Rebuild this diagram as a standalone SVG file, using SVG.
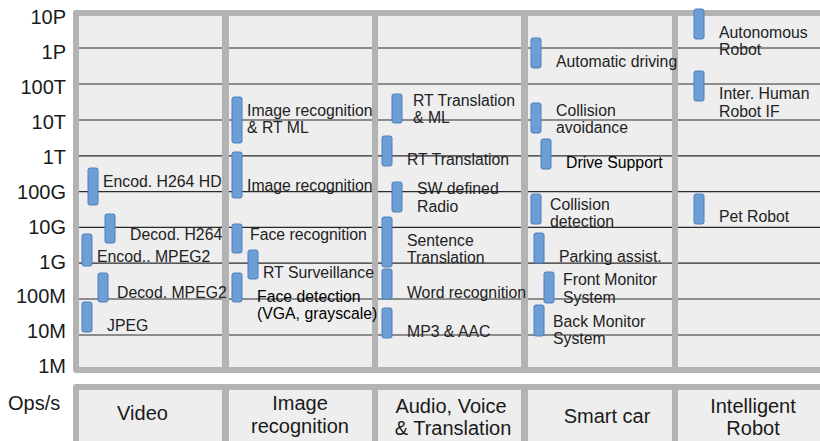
<svg xmlns="http://www.w3.org/2000/svg" width="820" height="441" viewBox="0 0 820 441">
<style>
.frame{fill:#b3b3b3}
.cell{fill:#eeeeee}
.grid{stroke:#2a2a2a;stroke-width:1.2}
.bar{fill:#6e9ed6;stroke:#4a7ebb;stroke-width:1}
.lbl{font-family:"Liberation Sans",Arial,sans-serif;font-size:15.8px;fill:#222}
.blk{fill:#000}
.ax{font-family:"Liberation Sans",Arial,sans-serif;font-size:20px;fill:#1a1a1a;text-anchor:end}
.cat{font-family:"Liberation Sans",Arial,sans-serif;font-size:20px;fill:#1a1a1a;text-anchor:middle}
</style>
<rect width="820" height="441" fill="#ffffff"/>
<g id="chart-frame">
<rect class="frame" x="73" y="10" width="800" height="363" rx="3"/>
<rect class="cell" x="79" y="16" width="800" height="351"/>
</g>
<g id="gridlines">
<line class="grid" x1="79" y1="48" x2="820" y2="48"/>
<line class="grid" x1="79" y1="84" x2="820" y2="84"/>
<line class="grid" x1="79" y1="120" x2="820" y2="120"/>
<line class="grid" x1="79" y1="155.8" x2="820" y2="155.8"/>
<line class="grid" x1="79" y1="191.6" x2="820" y2="191.6"/>
<line class="grid" x1="79" y1="227.4" x2="820" y2="227.4"/>
<line class="grid" x1="79" y1="263.2" x2="820" y2="263.2"/>
<line class="grid" x1="79" y1="299" x2="820" y2="299"/>
<line class="grid" x1="79" y1="335" x2="820" y2="335"/>
</g>
<g id="separators">
<rect class="frame" x="222" y="16" width="7" height="351"/>
<rect class="frame" x="372" y="16" width="6" height="351"/>
<rect class="frame" x="521" y="16" width="7" height="351"/>
<rect class="frame" x="672" y="16" width="6" height="351"/>
</g>
<g id="y-axis">
<text class="ax" x="66" y="24">10P</text>
<text class="ax" x="66" y="58.9">1P</text>
<text class="ax" x="66" y="93.9">100T</text>
<text class="ax" x="66" y="128.8">10T</text>
<text class="ax" x="66" y="163.7">1T</text>
<text class="ax" x="66" y="198.7">100G</text>
<text class="ax" x="66" y="233.6">10G</text>
<text class="ax" x="66" y="268.5">1G</text>
<text class="ax" x="66" y="303.4">100M</text>
<text class="ax" x="66" y="338.4">10M</text>
<text class="ax" x="66" y="373.3">1M</text>
<text x="8" y="410" style="font-family:'Liberation Sans',Arial,sans-serif;font-size:20px;fill:#1a1a1a">Ops/s</text>
</g>
<g id="categories">
<rect class="frame" x="73" y="384" width="800" height="80" rx="3"/>
<rect class="cell" x="79" y="390" width="143" height="60"/>
<rect class="cell" x="229" y="390" width="143" height="60"/>
<rect class="cell" x="378" y="390" width="143" height="60"/>
<rect class="cell" x="528" y="390" width="144" height="60"/>
<rect class="cell" x="678" y="390" width="200" height="60"/>
<text class="cat" x="142.5" y="420">Video</text>
<text class="cat" x="300" y="410">Image</text>
<text class="cat" x="300" y="433">recognition</text>
<text class="cat" x="451" y="413">Audio, Voice</text>
<text class="cat" x="453" y="435">&amp; Translation</text>
<text class="cat" x="607" y="423">Smart car</text>
<text class="cat" x="753" y="413">Intelligent</text>
<text class="cat" x="753" y="435">Robot</text>
</g>
<g id="n-encod-h264hd"><rect class="bar" x="88" y="168" width="10" height="37" rx="2"/><text class="lbl" x="103" y="187">Encod. H264 HD</text></g>
<g id="n-decod-h264"><rect class="bar" x="105" y="214" width="10" height="29" rx="2"/><text class="lbl" x="130" y="240">Decod. H264</text></g>
<g id="n-encod-mpeg2"><rect class="bar" x="82" y="234" width="10" height="32" rx="2"/><text class="lbl" x="97" y="262">Encod.. MPEG2</text></g>
<g id="n-decod-mpeg2"><rect class="bar" x="98" y="273" width="10" height="29" rx="2"/><text class="lbl" x="117" y="298">Decod. MPEG2</text></g>
<g id="n-jpeg"><rect class="bar" x="82" y="302" width="10" height="30" rx="2"/><text class="lbl" x="107" y="331">JPEG</text></g>
<g id="n-imgrec-rtml"><rect class="bar" x="232" y="97" width="10" height="46" rx="2"/><text class="lbl" x="247" y="116">Image recognition</text><text class="lbl" x="247" y="133">&amp; RT ML</text></g>
<g id="n-imgrec"><rect class="bar" x="232" y="152" width="10" height="46" rx="2"/><text class="lbl" x="247" y="191">Image recognition</text></g>
<g id="n-facerec"><rect class="bar" x="232" y="224" width="10" height="29" rx="2"/><text class="lbl" x="250" y="240">Face recognition</text></g>
<g id="n-rtsurv"><rect class="bar" x="248" y="250" width="10" height="29" rx="2"/><text class="lbl" x="263" y="278">RT Surveillance</text></g>
<g id="n-facedet"><rect class="bar" x="232" y="273" width="10" height="29" rx="2"/><text class="lbl blk" x="257" y="302">Face detection</text><text class="lbl blk" x="257" y="319">(VGA, grayscale)</text></g>
<g id="n-rttrans-ml"><rect class="bar" x="392" y="94" width="10" height="29" rx="2"/><text class="lbl" x="413" y="106">RT Translation</text><text class="lbl" x="413" y="123">&amp; ML</text></g>
<g id="n-rttrans"><rect class="bar" x="382" y="136" width="10" height="30" rx="2"/><text class="lbl" x="407" y="165">RT Translation</text></g>
<g id="n-swradio"><rect class="bar" x="392" y="182" width="10" height="30" rx="2"/><text class="lbl" x="417" y="194">SW defined</text><text class="lbl" x="417" y="212">Radio</text></g>
<g id="n-senttrans"><rect class="bar" x="382" y="217" width="10" height="50" rx="2"/><text class="lbl" x="407" y="246">Sentence</text><text class="lbl" x="407" y="263">Translation</text></g>
<g id="n-wordrec"><rect class="bar" x="382" y="269" width="10" height="30" rx="2"/><text class="lbl" x="407" y="298">Word recognition</text></g>
<g id="n-mp3"><rect class="bar" x="382" y="308" width="10" height="30" rx="2"/><text class="lbl" x="407" y="337">MP3 &amp; AAC</text></g>
<g id="n-autodrive"><rect class="bar" x="531" y="38" width="10" height="30" rx="2"/><text class="lbl" x="556" y="67">Automatic driving</text></g>
<g id="n-collavoid"><rect class="bar" x="531" y="103" width="10" height="30" rx="2"/><text class="lbl" x="556" y="116">Collision</text><text class="lbl" x="556" y="133">avoidance</text></g>
<g id="n-drivesupport"><rect class="bar" x="541" y="139" width="10" height="30" rx="2"/><text class="lbl blk" x="566" y="168">Drive Support</text></g>
<g id="n-colldet"><rect class="bar" x="531" y="194" width="10" height="30" rx="2"/><text class="lbl" x="550" y="210">Collision</text><text class="lbl" x="550" y="227">detection</text></g>
<g id="n-parking"><rect class="bar" x="534" y="233" width="10" height="30" rx="2"/><text class="lbl" x="559" y="262">Parking assist.</text></g>
<g id="n-frontmon"><rect class="bar" x="544" y="272" width="10" height="31" rx="2"/><text class="lbl" x="563" y="285">Front Monitor</text><text class="lbl" x="563" y="303">System</text></g>
<g id="n-backmon"><rect class="bar" x="534" y="305" width="10" height="31" rx="2"/><text class="lbl" x="553" y="327">Back Monitor</text><text class="lbl" x="553" y="344">System</text></g>
<g id="n-autorobot"><rect class="bar" x="694" y="9" width="10" height="30" rx="2"/><text class="lbl" x="719" y="38">Autonomous</text><text class="lbl" x="719" y="55">Robot</text></g>
<g id="n-hri"><rect class="bar" x="694" y="71" width="10" height="30" rx="2"/><text class="lbl" x="719" y="99">Inter. Human</text><text class="lbl" x="719" y="117">Robot IF</text></g>
<g id="n-petrobot"><rect class="bar" x="694" y="194" width="10" height="30" rx="2"/><text class="lbl" x="719" y="222">Pet Robot</text></g>
</svg>
